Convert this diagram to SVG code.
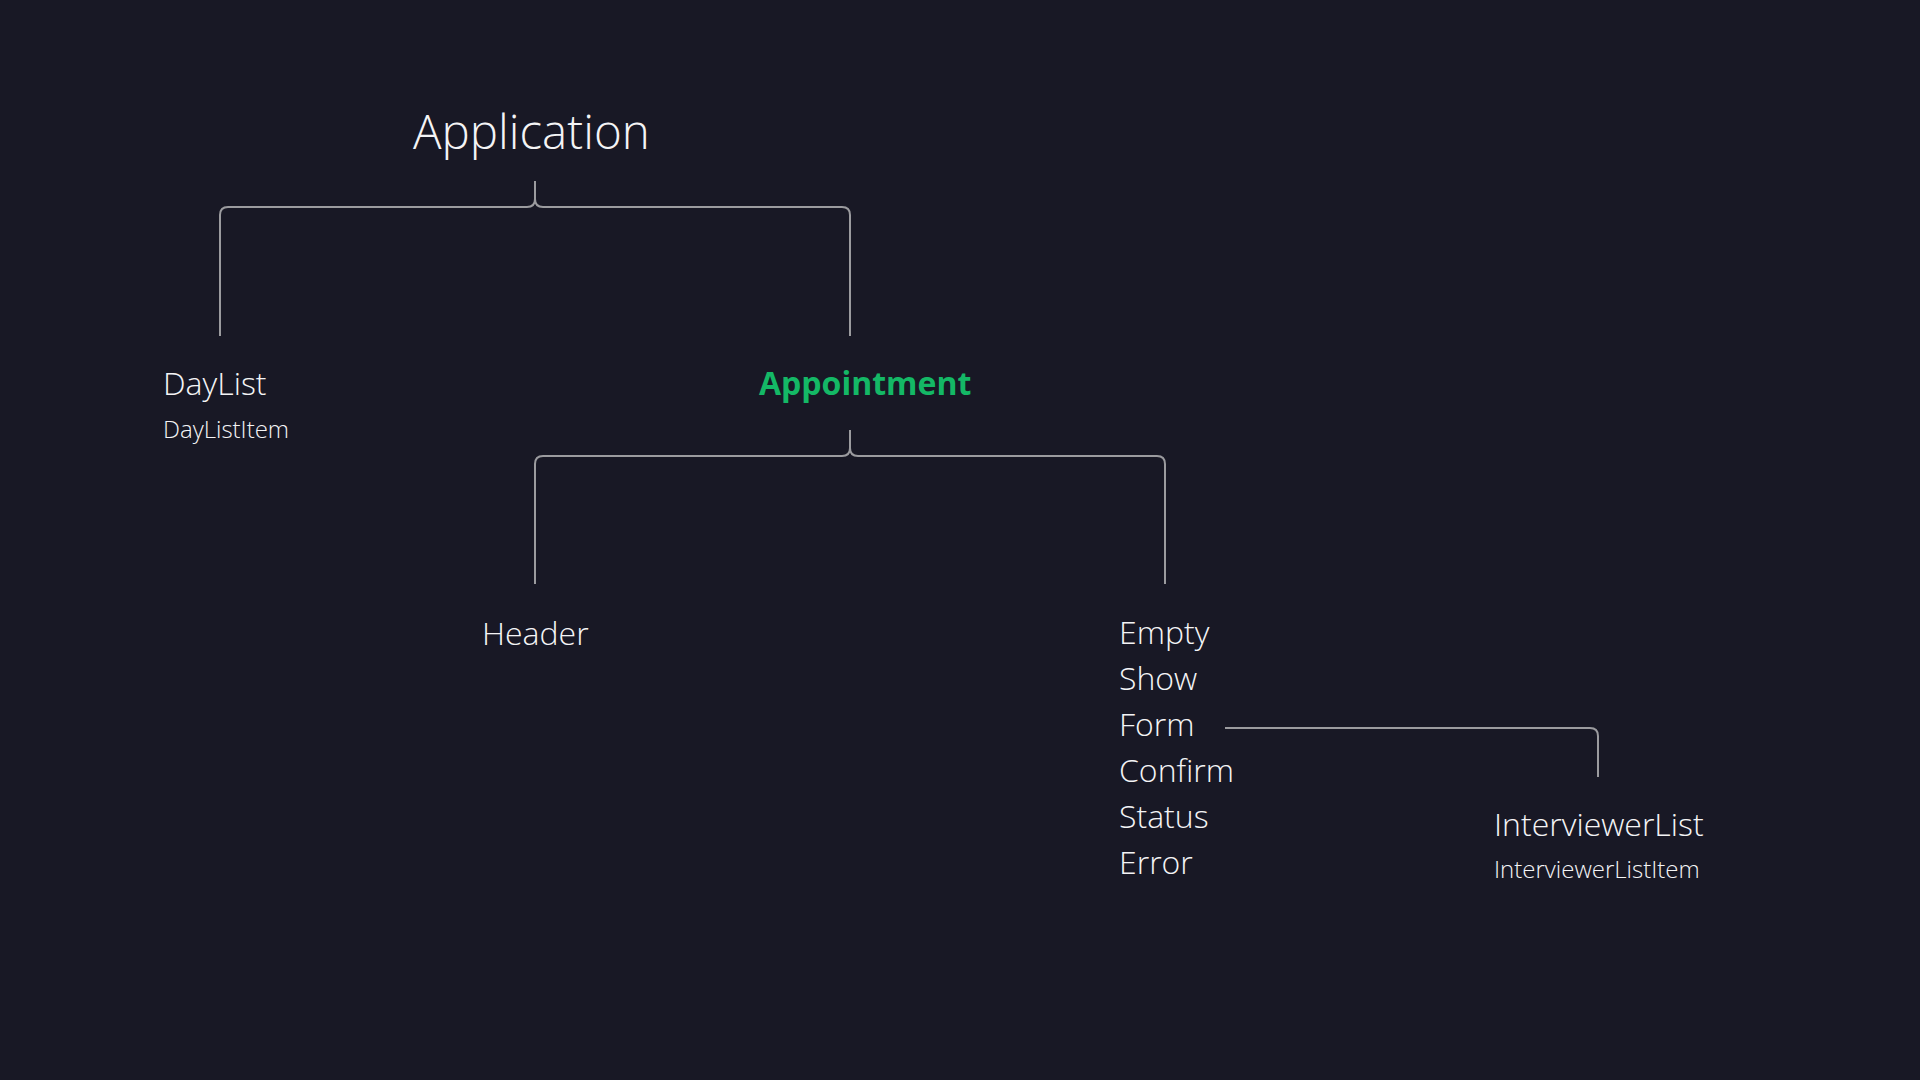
<svg xmlns="http://www.w3.org/2000/svg" width="1920" height="1080" viewBox="0 0 1920 1080">
<style>
.t{font-family:"Open Sans","Noto Sans","DejaVu Sans",sans-serif;font-weight:300;fill:#f4f4f6}
.h1{font-size:47.5px}
.h2{font-size:32px}
.h3{font-size:24px}
.hl{font-weight:700;fill:#14b866}
.c{fill:none;stroke:#9b9b9f;stroke-width:2}
</style>
<rect width="1920" height="1080" fill="#181825"/>
<g id="connectors">
<path class="c" d="M535,181 V199 Q535,207 527,207 H228 Q220,207 220,215 V336"/>
<path class="c" d="M535,199 Q535,207 543,207 H842 Q850,207 850,215 V336"/>
<path class="c" d="M850,430 V448 Q850,456 842,456 H543 Q535,456 535,464 V584"/>
<path class="c" d="M850,448 Q850,456 858,456 H1157 Q1165,456 1165,464 V584"/>
<path class="c" d="M1225,728 H1590 Q1598,728 1598,736 V777"/>
</g>
<g id="application"><text class="t h1" x="413" y="149">Application</text></g>
<g id="daylist"><text class="t h2" x="163" y="395">DayList</text><text class="t h3" x="163" y="438">DayListItem</text></g>
<g id="appointment"><text class="t h2 hl" x="759" y="395">Appointment</text></g>
<g id="header"><text class="t h2" x="482" y="645">Header</text></g>
<g id="states">
<text class="t h2" x="1119" y="644">Empty</text>
<text class="t h2" x="1119" y="690">Show</text>
<text class="t h2" x="1119" y="736">Form</text>
<text class="t h2" x="1119" y="782">Confirm</text>
<text class="t h2" x="1119" y="828">Status</text>
<text class="t h2" x="1119" y="874">Error</text>
</g>
<g id="interviewerlist"><text class="t h2" x="1494" y="836">InterviewerList</text><text class="t h3" x="1494" y="878">InterviewerListItem</text></g>
</svg>
